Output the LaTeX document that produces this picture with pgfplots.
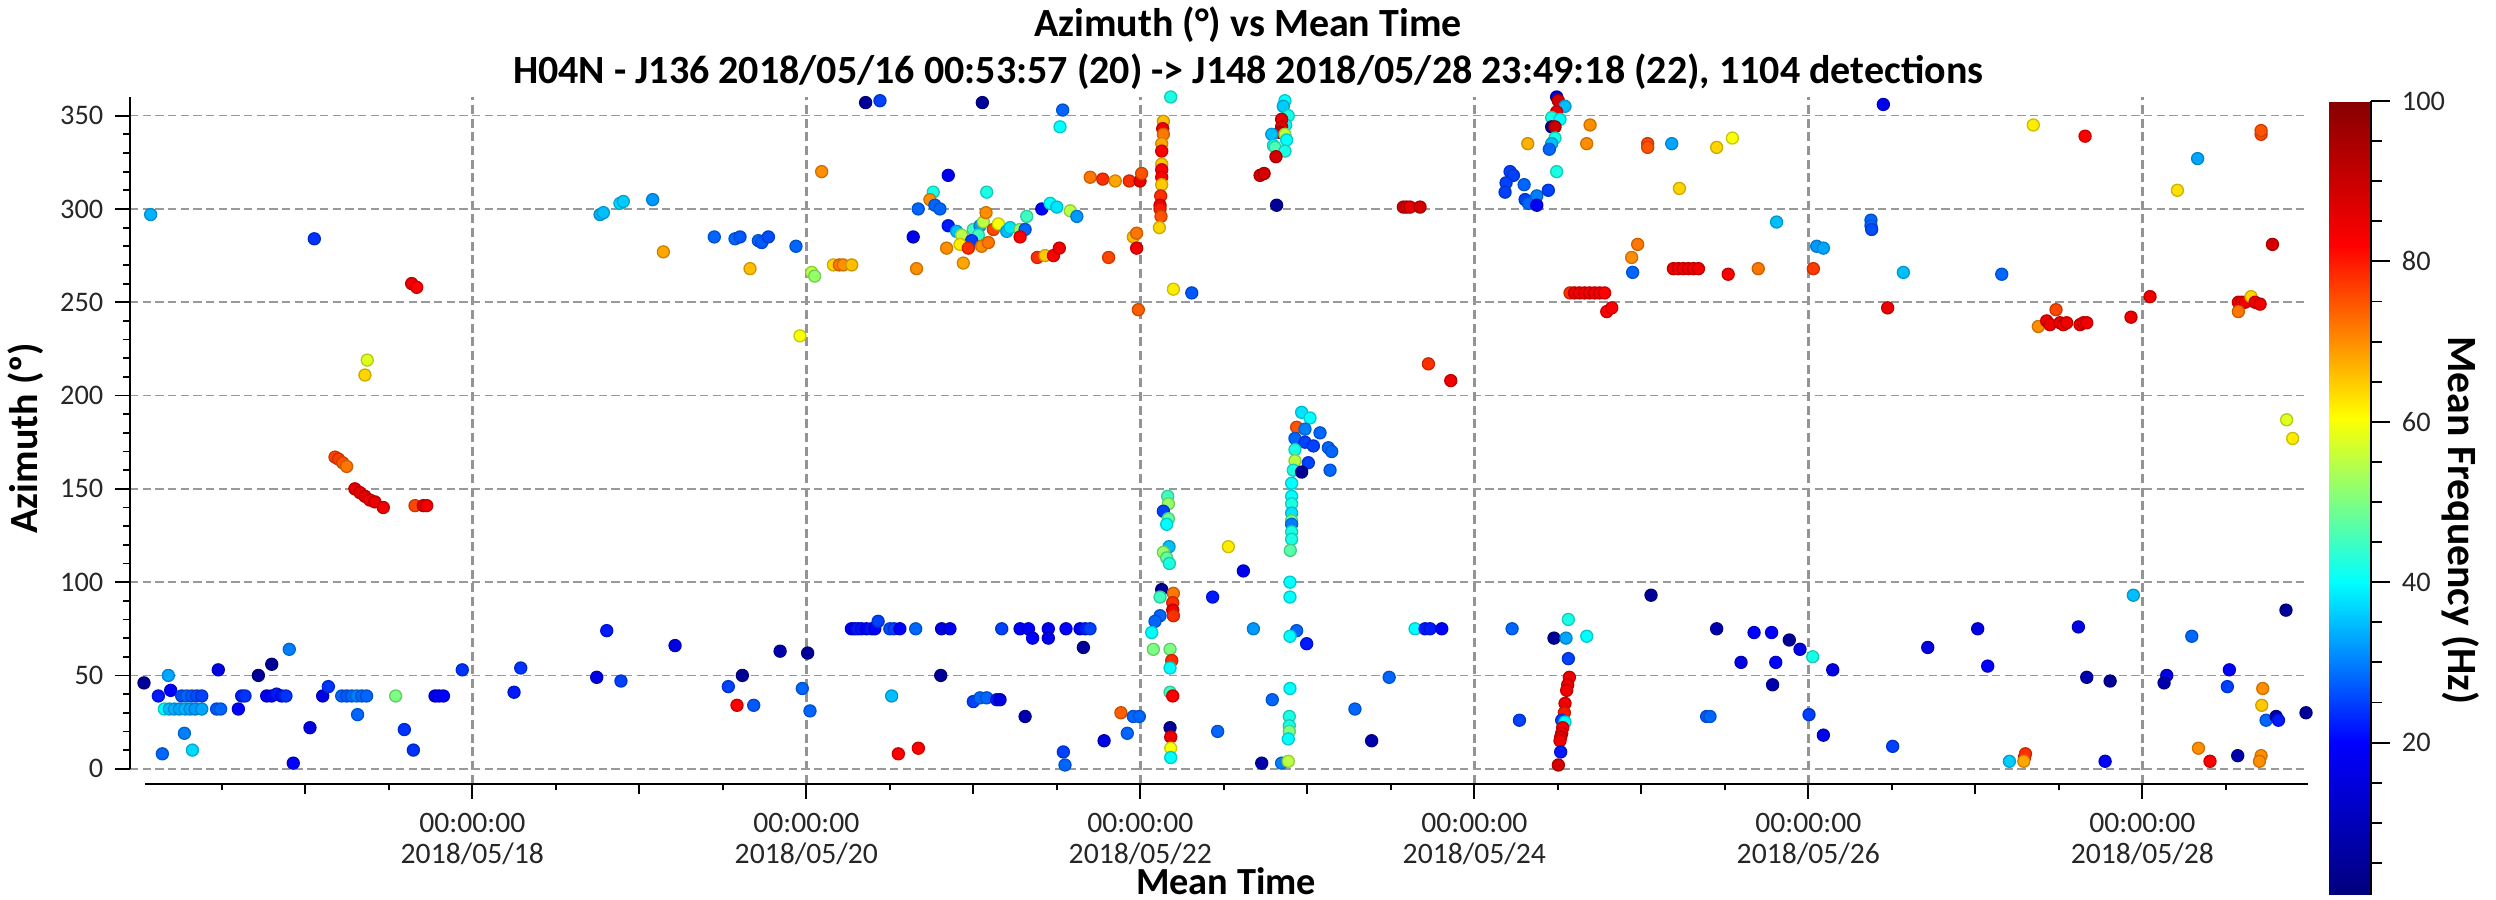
\documentclass[border=0pt]{standalone}
\usepackage{fontspec}
\setmainfont{Carlito}
\usepackage{pgfplots}
\usepackage{pgfplotstable}
\pgfplotsset{compat=1.18}

\pgfplotsset{
  colormap={refjet}{rgb255(0pt)=(0,0,125) rgb255(19pt)=(0,0,255) rgb255(39pt)=(0,255,255)
    rgb255(59.5pt)=(255,255,0) rgb255(81pt)=(255,0,0) rgb255(99pt)=(135,0,0)}
}

% days since 2018/05/16 00:00, azimuth (deg), mean frequency (Hz)
\pgfplotstableread{
x y c
0.074 297 34
1.054 284 24
1.637 260 84
1.667 258 82
1.371 219 58
1.357 211 64
1.178 167 76
1.198 166 77
1.224 164 75
1.248 162 72
1.297 150 86
1.327 148 85
1.357 146 86
1.387 144 84
1.417 143 85
1.467 140 84
1.657 141 76
1.707 141 85
1.727 141 84
0.034 46 5
0.180 50 33
0.120 39 22
0.194 42 20
0.26 39 26
0.29 39 28
0.32 39 27
0.35 39 26
0.38 39 25
0.479 53 16
0.156 32 40
0.186 32 35
0.216 32 34
0.246 32 33
0.28 32 34
0.31 32 33
0.34 32 32
0.38 32 33
0.469 32 27
0.493 32 28
0.599 32 20
0.619 39 22
0.639 39 24
0.719 50 5
0.799 56 5
0.904 64 30
0.769 39 18
0.798 39 20
0.828 40 22
0.858 39 21
0.884 39 24
0.276 19 30
0.144 8 28
0.324 10 37
0.928 3 20
1.028 22 16
1.104 39 16
1.138 44 24
1.218 39 28
1.248 39 27
1.278 39 28
1.308 39 30
1.338 39 28
1.367 39 28
1.313 29 28
1.541 39 50
1.593 21 24
1.647 10 24
1.777 39 17
1.800 39 19
1.827 39 20
1.940 53 24
2.250 41 22
2.290 54 24
4.355 357 5
4.441 358 25
5.054 357 5
4.092 320 70
4.850 318 18
4.760 309 42
4.740 305 70
4.770 302 28
4.670 300 28
5.080 309 42
2.765 297 34
2.785 298 35
2.884 303 37
2.904 304 36
3.080 305 32
3.144 277 68
3.449 285 28
3.573 284 28
3.603 285 27
3.713 283 28
3.733 282 27
3.773 285 26
3.938 280 28
3.663 268 66
4.032 266 55
4.050 264 52
4.162 270 64
4.198 270 72
4.222 270 70
4.272 270 66
4.640 285 18
4.660 268 70
4.850 291 22
3.962 232 60
4.800 300 28
4.900 288 35
4.930 286 55
5.000 289 45
5.040 291 32
5.030 286 45
4.990 283 25
5.060 293 55
5.076 298 70
5.120 289 76
5.150 292 60
5.200 288 35
5.220 290 38
5.280 289 52
5.310 289 28
5.280 285 82
4.840 279 70
4.920 281 62
4.970 279 78
5.050 280 70
5.090 282 72
4.940 271 68
5.320 296 45
5.410 300 20
5.460 303 40
5.500 301 38
5.580 299 55
5.620 296 32
5.383 274 78
5.430 275 65
5.480 275 82
5.515 279 84
5.810 274 76
5.700 317 72
5.775 316 78
5.850 315 68
5.934 315 78
5.998 315 85
6.008 319 75
5.958 285 66
5.978 287 72
5.978 279 84
6.198 257 62
6.308 255 27
5.988 246 74
6.717 318 88
2.805 74 22
3.214 66 16
3.843 63 8
4.008 62 5
2.745 49 16
2.890 47 25
3.533 44 25
3.617 50 5
3.976 43 28
4.022 31 28
3.585 34 82
3.685 34 27
4.511 39 35
4.551 8 82
4.671 11 82
4.270 75 20
4.290 75 20
4.310 75 22
4.330 75 21
4.360 75 20
4.390 75 22
4.410 75 20
4.430 79 25
4.500 75 26
4.525 75 25
4.560 75 20
4.655 75 28
4.810 75 16
4.860 75 18
4.805 50 5
5.000 36 25
5.040 38 28
5.080 38 28
5.140 37 22
5.535 353 28
5.519 344 40
6.182 360 42
6.138 347 66
6.134 343 84
6.138 340 72
6.128 335 68
6.128 331 82
6.128 324 65
6.128 321 82
6.128 317 82
6.128 313 65
6.122 307 78
6.118 302 84
6.118 300 80
6.124 296 75
6.114 290 64
6.866 358 40
6.856 355 36
6.886 350 42
6.870 345 40
6.846 348 85
6.846 344 86
6.836 341 90
6.866 340 55
6.787 340 35
6.876 337 40
6.797 334 40
6.807 333 46
6.866 331 42
6.812 328 88
6.741 319 88
6.816 302 5
7.575 301 88
7.595 301 88
7.615 301 86
7.675 301 88
7.725 217 78
7.859 208 84
6.966 191 38
7.016 188 40
6.936 183 75
6.986 182 30
7.076 180 28
6.926 177 28
6.986 175 25
7.036 173 25
7.126 172 28
7.146 170 28
6.926 171 42
6.926 165 55
7.006 164 25
6.916 160 42
6.966 159 5
7.136 160 28
6.906 153 40
6.906 146 40
6.906 142 42
6.906 137 38
6.906 133 48
6.906 131 30
6.906 127 42
6.906 123 42
6.898 117 47
6.896 100 40
6.896 92 40
6.936 74 28
6.896 71 40
6.996 67 22
6.896 43 40
6.892 28 42
6.892 23 42
6.892 20 50
6.886 16 40
6.727 3 8
6.846 3 30
6.886 4 55
6.164 146 45
6.168 142 52
6.138 138 25
6.168 134 48
6.158 131 40
6.172 119 35
6.138 116 52
6.158 113 48
6.174 110 42
6.128 96 5
6.118 92 45
6.198 94 72
6.194 89 78
6.194 85 84
6.198 82 78
6.118 82 28
6.088 79 28
6.068 73 40
6.078 64 50
6.178 64 50
6.188 58 78
6.178 54 40
6.178 41 45
6.194 39 82
6.178 22 5
6.182 17 84
6.182 11 60
6.182 6 40
6.527 119 62
6.617 106 18
6.433 92 22
6.677 75 32
5.170 75 25
5.280 75 20
5.330 75 20
5.355 70 20
5.449 75 18
5.449 70 18
5.555 75 20
5.639 75 20
5.670 75 22
5.699 75 25
5.659 65 5
5.160 37 16
5.310 28 8
5.539 9 25
5.549 2 28
5.783 15 16
5.884 30 74
5.922 19 28
5.958 28 28
5.994 28 28
6.463 20 28
6.790 37 28
7.285 32 28
7.385 15 8
7.490 49 28
7.645 75 40
7.705 75 22
7.735 75 22
7.805 75 20
8.493 360 12
8.503 358 88
8.543 355 35
8.493 352 85
8.463 349 42
8.513 348 40
8.463 344 5
8.483 344 90
8.483 338 42
8.463 335 35
8.449 332 28
8.493 320 42
8.320 335 67
8.693 345 70
8.673 335 70
9.038 335 76
9.038 333 75
9.182 335 33
9.451 333 64
9.545 338 60
9.228 311 64
8.214 320 25
8.234 318 25
8.190 314 25
8.184 309 25
8.298 313 28
8.304 305 25
8.324 303 28
8.374 307 30
8.374 302 20
8.443 310 25
9.810 293 35
10.050 280 32
10.090 279 33
10.030 268 77
8.978 281 72
8.942 274 70
8.948 266 28
9.192 268 84
9.222 268 84
9.252 268 84
9.282 268 84
9.312 268 84
9.342 268 84
9.520 265 82
9.700 268 72
8.573 255 78
8.600 255 84
8.630 255 84
8.660 255 84
8.690 255 84
8.720 255 84
8.750 255 84
8.780 255 82
8.793 245 82
8.823 247 82
9.058 93 5
8.226 75 28
8.563 80 42
8.477 70 5
8.549 70 33
8.673 71 40
8.563 59 25
8.569 49 84
8.559 45 84
8.553 42 84
8.543 35 84
8.539 30 80
8.523 26 25
8.543 25 40
8.529 22 84
8.523 19 84
8.517 17 86
8.513 15 84
8.517 9 22
8.503 2 88
8.270 26 25
9.391 28 27
9.411 28 28
9.451 75 8
9.675 73 20
9.780 73 20
9.886 69 5
9.950 64 16
9.597 57 16
9.805 57 20
9.786 45 8
10.026 60 42
10.146 53 16
10.004 29 25
10.090 18 18
10.449 356 18
11.347 345 62
11.657 339 82
12.711 340 76
12.711 342 75
12.331 327 33
12.210 310 63
10.375 294 28
10.375 291 28
10.379 289 26
10.569 266 35
11.158 265 28
10.475 247 84
11.377 237 70
11.427 240 84
11.447 238 84
11.483 246 76
11.507 239 84
11.527 238 84
11.547 239 84
11.627 238 84
11.647 239 84
11.667 239 84
11.932 242 84
12.046 253 84
12.575 250 84
12.595 250 84
12.615 250 84
12.651 253 64
12.675 250 84
12.705 249 84
12.575 245 72
12.779 281 88
12.864 187 58
12.900 177 62
11.946 93 35
12.860 85 5
11.014 75 16
11.617 76 16
10.715 65 16
12.296 71 28
11.074 55 20
11.667 49 8
11.807 47 5
12.146 50 16
12.130 46 8
12.521 53 20
12.509 44 25
12.721 43 70
12.715 34 65
12.741 26 28
12.801 28 8
12.815 26 22
12.980 30 5
10.505 12 25
11.204 4 36
11.294 6 82
11.300 8 78
11.290 4 68
11.777 4 20
12.336 11 70
12.405 4 82
12.571 7 8
12.711 7 70
12.701 4 70
}\detections

\newcommand{\tickfont}{\fontsize{8.5}{9.5}\selectfont}
\newcommand{\xtickfont}{\fontsize{8.9}{9.3}\selectfont}
\newcommand{\labfont}{\bfseries\fontsize{12}{14}\selectfont}

\begin{document}
\begin{tikzpicture}
\path[use as bounding box] (-39pt,-34.9pt) rectangle (709.8pt,235.1pt);
\begin{axis}[
  at={(0,0)}, anchor=south west,
  scale only axis, width=653.3pt, height=206pt,
  xmin=-0.0497, xmax=12.99, ymin=-8, ymax=360,
  clip=false,
  axis x line=bottom, axis y line=left,
  axis line style={line width=0.6pt},
  x axis line style={-, shorten <=4.5pt},
  y axis line style={-, shorten <=4.5pt},
  tick align=outside,
  tick style={black, line width=0.55pt},
  major tick length=4.5pt, minor tick length=2pt,
  xtick={2,4,...,12},
  xticklabels={{00:00:00\\2018/05/18},{00:00:00\\2018/05/20},{00:00:00\\2018/05/22},
    {00:00:00\\2018/05/24},{00:00:00\\2018/05/26},{00:00:00\\2018/05/28}},
  minor xtick={0.5,1.5,...,12.5},
  extra x ticks={1,3,...,11},
  extra x tick labels={},
  extra x tick style={grid=none, major tick length=3pt},
  ytick={0,50,...,350},
  minor y tick num=4,
  xticklabel style={font=\xtickfont, align=center, text=black!85, yshift=-0.8pt},
  yticklabel style={font=\tickfont, text=black!85},
  /pgf/number format/assume math mode=true,
  xmajorgrids, ymajorgrids,
  major x grid style={black!42, line width=0.8pt, dash pattern=on 2.7pt off 1.4pt},
  major y grid style={black!40, line width=0.5pt, dash pattern=on 2.5pt off 1.3pt},
  colormap name=refjet,
  point meta min=1, point meta max=100,
  colorbar,
  colorbar style={
    at={(parent axis.north east)},
    anchor=north west,
    xshift=-2.1pt, yshift=-1.2pt,
    width=12.6pt, height=238.2pt,
    axis x line=none, axis y line*=right,
    y axis line style={-, line width=0.5pt},
    ytick={20,40,...,100}, minor ytick={5,10,...,95},
    tick align=outside,
    major tick length=5.7pt, minor tick length=3.3pt,
    yticklabel style={font=\tickfont, text=black!85},
    /pgf/number format/assume math mode=true,
  },
]
\addplot[scatter, only marks, mark=*, mark size=1.8pt, scatter src=explicit]
  table[x=x, y=y, meta=c] {\detections};
\end{axis}
\node[anchor=base, font=\labfont] at (335.4pt,224.0pt) {Azimuth (°) vs Mean Time};
\node[anchor=base, font=\labfont] at (335.4pt,209.9pt)
  {H04N - J136 2018/05/16 00:53:57 (20) -> J148 2018/05/28 23:49:18 (22), 1104 detections};
\node[anchor=base, font=\bfseries\fontsize{11.5}{13}\selectfont, inner sep=0pt]
  at (328.8pt,-33.2pt) {Mean Time};
\node[anchor=base, rotate=90, font=\labfont] at (-27.6pt,103.7pt) {Azimuth (º)};
\node[anchor=base, rotate=-90, font=\bfseries\fontsize{12.5}{14}\selectfont]
  at (695.5pt,79pt) {Mean Frequency (Hz)};
\end{tikzpicture}
\end{document}
